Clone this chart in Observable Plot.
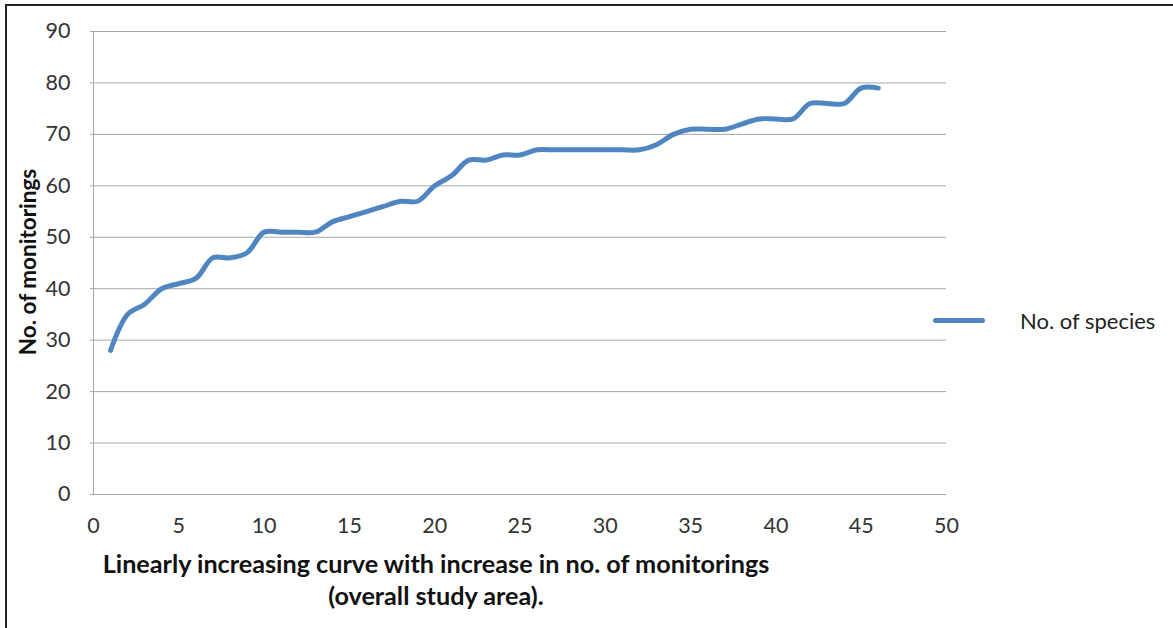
<!DOCTYPE html>
<html>
<head>
<meta charset="utf-8">
<script src="https://cdn.jsdelivr.net/npm/d3@7"></script>
<script src="https://cdn.jsdelivr.net/npm/@observablehq/plot@0.6"></script>
<style>
  html, body { margin: 0; padding: 0; background: #fff; }
  #wrap { position: relative; width: 1173px; height: 628px; overflow: hidden; font-family: Lato, "Open Sans", sans-serif; }
  #frame { position: absolute; left: 5px; top: 4px; right: -10px; bottom: -10px; border-left: 2px solid #222; border-top: 2px solid #222; }
  #chart { position: absolute; left: 0; top: 0; }
  .ytitle { position: absolute; left: 27px; top: 262px; transform: translate(-50%, -50%) rotate(-90deg); font-weight: bold; font-size: 22.5px; color: #111; white-space: nowrap; }
  .xtitle { position: absolute; left: 436px; top: 547px; transform: translateX(-50%); font-weight: bold; font-size: 25.2px; color: #111; text-align: center; line-height: 32px; white-space: nowrap; }
  .legend { position: absolute; left: 933px; top: 307px; display: flex; align-items: center; font-size: 22px; color: #222; }
  .legend .sw { width: 52px; height: 5px; border-radius: 3px; background: #4f86c2; margin-right: 35px; }
</style>
</head>
<body>
<div id="wrap">
  <div id="frame"></div>
  <div id="chart"></div>
  <div class="ytitle">No. of monitorings</div>
  <div class="xtitle">Linearly increasing curve with increase in no. of monitorings<br>(overall study area).</div>
  <div class="legend"><div class="sw"></div><span>No. of species</span></div>
</div>
<script>
const monitorings = [1,2,3,4,5,6,7,8,9,10,11,12,13,14,15,16,17,18,19,20,21,22,23,24,25,26,27,28,29,30,31,32,33,34,35,36,37,38,39,40,41,42,43,44,45,46];
const species =     [28,35,37,40,41,42,46,46,47,51,51,51,51,53,54,55,56,57,57,60,62,65,65,66,66,67,67,67,67,67,67,67,68,70,71,71,71,72,73,73,73,76,76,76,79,79];
const xTicks = [0,5,10,15,20,25,30,35,40,45,50];
const yTicks = [0,10,20,30,40,50,60,70,80,90];
const seriesName = "No. of species";

const data = monitorings.map((m, i) => ({ m, s: species[i], series: seriesName }));

const chart = Plot.plot({
  width: 1173,
  height: 628,
  marginLeft: 93,
  marginRight: 227,
  marginTop: 31,
  marginBottom: 134,
  x: { domain: [0, 50] },
  y: { domain: [0, 90] },
  style: { fontFamily: "Lato, 'Open Sans', sans-serif", fontSize: "21.5px", color: "#333", background: "transparent", overflow: "visible" },
  marks: [
    Plot.gridY(yTicks, { stroke: "#a6a6a6", strokeOpacity: 1, strokeWidth: 1 }),
    Plot.ruleX([0], { stroke: "#a6a6a6", strokeWidth: 1 }),
    Plot.axisY(yTicks, { tickSize: 3, tickPadding: 20, label: null, stroke: "#a6a6a6", fill: "#333" }),
    Plot.axisX(xTicks, { tickSize: 0, tickPadding: 23, label: null, fill: "#333" }),
    Plot.line(data, { x: "m", y: "s", curve: "catmull-rom", stroke: "#4f86c2", strokeWidth: 5, strokeLinecap: "round", strokeLinejoin: "round" })
  ]
});
document.getElementById("chart").appendChild(chart);
</script>
</body>
</html>
